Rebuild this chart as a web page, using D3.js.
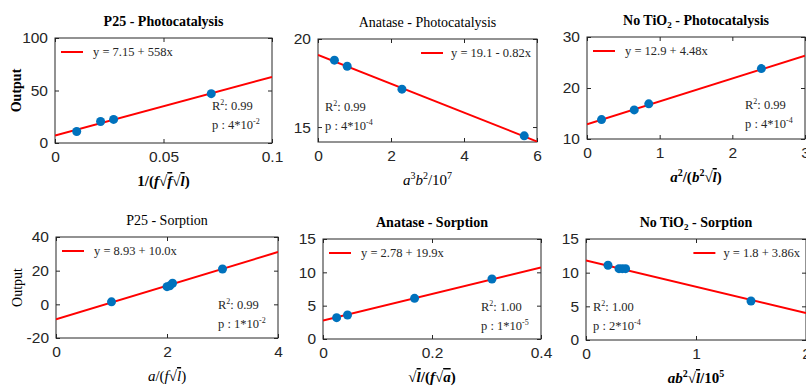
<!DOCTYPE html>
<html>
<head>
<meta charset="utf-8">
<script src="https://cdn.jsdelivr.net/npm/d3@7"></script>
<style>
  body { margin: 0; background: #fff; }
  svg { display: block; }
  .tick text { font-family: "Liberation Sans", Arial, sans-serif; font-size: 15.5px; fill: #262626; }
  .tick line { stroke: #262626; }
</style>
</head>
<body>
<script>
// six regression panels, MATLAB-ish look

var width = 806;
var height = 386;

// ---- data ----
var titles = ["P25 - Photocatalysis", "Anatase - Photocatalysis", "No TiO|2| - Photocatalysis",
              "P25 - Sorption", "Anatase - Sorption", "No TiO|2| - Sorption"];
var titleBold = [true, false, true, false, true, true];

var xDomains = [[0, 0.1], [0, 6], [0, 3], [0, 4], [0, 0.4], [0, 2]];
var yDomains = [[0, 100], [14.15, 20], [10, 30], [-20, 40], [0, 15], [0, 15]];
var xTicks = [[0, 0.05, 0.1], [0, 2, 4, 6], [0, 1, 2, 3], [0, 2, 4], [0, 0.2, 0.4], [0, 1, 2]];
var yTicks = [[0, 50, 100], [15, 20], [10, 20, 30], [-20, 0, 20, 40], [0, 5, 10, 15], [0, 5, 10, 15]];

var pointsX = [
  [0.01, 0.021, 0.027, 0.072],
  [0.45, 0.8, 2.3, 5.65],
  [0.2, 0.65, 0.85, 2.4],
  [1.0, 2.0, 2.05, 2.1, 3.0],
  [0.025, 0.045, 0.168, 0.31],
  [0.2, 0.3, 0.33, 0.36, 1.5]
];
var pointsY = [
  [11, 20.5, 22.5, 47],
  [18.8, 18.45, 17.15, 14.5],
  [13.8, 15.7, 16.9, 23.8],
  [1.5, 10.5, 11, 12.5, 21],
  [3.2, 3.6, 6.1, 9.0],
  [11.1, 10.6, 10.6, 10.6, 5.8]
];

// fitted line as drawn (intercept, slope)
var fitA = [7.15, 19.1, 12.9, -8.93, 2.78, 11.8];
var fitB = [558, -0.82, 4.48, 10.0, 19.9, -3.9];

var legendText = ["y = 7.15 + 558x", "y = 19.1 - 0.82x", "y = 12.9 + 4.48x",
                  "y = 8.93 + 10.0x", "y = 2.78 + 19.9x", "y = 1.8 + 3.86x"];
var legendRight = [false, true, false, false, false, true];
var statR2 = ["0.99", "0.99", "0.99", "0.99", "1.00", "1.00"];
var statP = ["4", "4", "4", "1", "1", "2"];
var statPexp = ["-2", "-4", "-4", "-2", "-5", "-4"];
var statsLeft = [false, true, false, false, false, true];

// axis label pieces: [text, style]  i = italic, o = overline, s = superscript
var xLabels = [
  [["1/(", ""], ["f", "i"], ["√", ""], ["f", "io"], ["√", ""], ["l", "io"], [")", ""]],
  [["a", "i"], ["3", "s"], ["b", "i"], ["2", "s"], ["/10", ""], ["7", "s"]],
  [["a", "i"], ["2", "s"], ["/(", ""], ["b", "i"], ["2", "s"], ["√", ""], ["l", "io"], [")", ""]],
  [["a", "i"], ["/(", ""], ["f", "i"], ["√", ""], ["l", "io"], [")", ""]],
  [["√", ""], ["l", "io"], ["/(", ""], ["f", "i"], ["√", ""], ["a", "io"], [")", ""]],
  [["ab", "i"], ["2", "s"], ["√", ""], ["l", "io"], ["/10", ""], ["5", "s"]]
];
var xLabelBold = [true, false, true, false, true, true];
var yLabels = ["Output", null, null, "Output", null, null];
var yLabelBold = [true, null, null, false, null, null];

// ---- layout (plot boxes) ----
var boxes = [
  {l: 55, t: 38, r: 272, b: 143},
  {l: 318, t: 39, r: 537, b: 142},
  {l: 587, t: 37, r: 805, b: 139},
  {l: 56, t: 237, r: 278, b: 338},
  {l: 323, t: 239, r: 541, b: 339},
  {l: 586, t: 239, r: 806, b: 340}
];

var svg = d3.select('body').append('svg')
  .attr('width', width)
  .attr('height', height);

var serif = '"Liberation Serif", "Times New Roman", serif';

boxes.forEach(function(box, i) {
  var x = d3.scaleLinear().domain(xDomains[i]).range([box.l, box.r]);
  var y = d3.scaleLinear().domain(yDomains[i]).range([box.b, box.t]);
  var g = svg.append('g');

  // clip
  g.append('clipPath').attr('id', 'clip' + i)
    .append('rect')
    .attr('x', box.l).attr('y', box.t)
    .attr('width', box.r - box.l).attr('height', box.b - box.t);

  // axes with inward ticks
  var fmt = function(d) { return String(d); };
  var bottom = g.append('g').attr('transform', 'translate(0,' + box.b + ')')
    .call(d3.axisBottom(x).tickValues(xTicks[i]).tickFormat(fmt).tickSizeInner(-4).tickSizeOuter(0).tickPadding(8));
  bottom.selectAll('text').attr('dy', '0.71em');
  g.append('g').attr('transform', 'translate(' + box.l + ',0)')
    .call(d3.axisLeft(y).tickValues(yTicks[i]).tickFormat(fmt).tickSizeInner(-4).tickSizeOuter(0).tickPadding(7));
  g.append('g').attr('transform', 'translate(0,' + box.t + ')')
    .call(d3.axisTop(x).tickValues(xTicks[i]).tickFormat('').tickSizeInner(-4).tickSizeOuter(0));
  g.append('g').attr('transform', 'translate(' + box.r + ',0)')
    .call(d3.axisRight(y).tickValues(yTicks[i]).tickFormat('').tickSizeInner(-4).tickSizeOuter(0));
  g.selectAll('.domain').remove();

  g.append('rect')
    .attr('x', box.l).attr('y', box.t)
    .attr('width', box.r - box.l).attr('height', box.b - box.t)
    .attr('fill', 'none')
    .attr('stroke', '#262626')
    .attr('stroke-width', 1);

  // fit line
  var xd = xDomains[i];
  g.append('line')
    .attr('clip-path', 'url(#clip' + i + ')')
    .attr('x1', x(xd[0])).attr('y1', y(fitA[i] + fitB[i] * xd[0]))
    .attr('x2', x(xd[1])).attr('y2', y(fitA[i] + fitB[i] * xd[1]))
    .attr('stroke', '#ff0000')
    .attr('stroke-width', 2);

  // points
  g.selectAll('circle.pt')
    .data(pointsX[i].map(function(v, k) { return {x: v, y: pointsY[i][k]}; }))
    .enter()
    .append('circle')
    .attr('class', 'pt')
    .attr('cx', function(d) { return x(d.x); })
    .attr('cy', function(d) { return y(d.y); })
    .attr('r', 4.5)
    .attr('fill', '#0072bd');

  // legend
  var leg = g.append('text')
    .attr('y', box.t + 18)
    .attr('font-family', serif)
    .attr('font-size', 12.5)
    .attr('fill', '#262626')
    .text(legendText[i]);
  var lx0, lx1;
  if (legendRight[i]) {
    leg.attr('x', box.r - 6).attr('text-anchor', 'end');
    var w = leg.node().getComputedTextLength();
    lx1 = box.r - 6 - w - 8;
    lx0 = lx1 - 22;
  } else {
    leg.attr('x', box.l + 38);
    lx0 = box.l + 6;
    lx1 = box.l + 28;
  }
  g.append('line')
    .attr('x1', lx0).attr('x2', lx1)
    .attr('y1', box.t + 14).attr('y2', box.t + 14)
    .attr('stroke', '#ff0000')
    .attr('stroke-width', 2);

  // stats
  var sx = statsLeft[i] ? box.l + 7 : box.r - 60;
  var s1 = g.append('text')
    .attr('x', sx).attr('y', box.t + 72)
    .attr('font-family', serif).attr('font-size', 12.5).attr('fill', '#262626');
  s1.append('tspan').text('R');
  s1.append('tspan').attr('font-size', 8).attr('dy', -5).text('2');
  s1.append('tspan').attr('dy', 5).text(': ' + statR2[i]);
  var s2 = g.append('text')
    .attr('x', sx).attr('y', box.t + 91)
    .attr('font-family', serif).attr('font-size', 12.5).attr('fill', '#262626');
  s2.append('tspan').text('p  : ' + statP[i] + '*10');
  s2.append('tspan').attr('font-size', 8).attr('dy', -5).text(statPexp[i]);

  // title
  var cx = (box.l + box.r) / 2;
  var tt = g.append('text')
    .attr('x', cx).attr('y', box.t - 12)
    .attr('text-anchor', 'middle')
    .attr('font-family', serif)
    .attr('font-size', 14)
    .attr('font-weight', titleBold[i] ? 'bold' : 'normal')
    .attr('fill', '#000');
  titles[i].split('|').forEach(function(part, k) {
    var sp = tt.append('tspan').text(part);
    if (k === 1) sp.attr('font-size', 9).attr('dy', 3);
    if (k === 2) sp.attr('dy', -3);
  });

  // x label
  var xl = g.append('text')
    .attr('x', cx).attr('y', box.b + 43)
    .attr('text-anchor', 'middle')
    .attr('font-family', serif)
    .attr('font-size', 15)
    .attr('font-weight', xLabelBold[i] ? 'bold' : 'normal')
    .attr('fill', '#000');
  var raised = false;
  xLabels[i].forEach(function(seg) {
    var sp = xl.append('tspan').text(seg[0]);
    var st = seg[1];
    if (st.indexOf('i') >= 0) sp.attr('font-style', 'italic');
    if (st.indexOf('o') >= 0) sp.style('text-decoration', 'overline');
    if (st.indexOf('s') >= 0) {
      sp.attr('font-size', 10).attr('dy', -6);
      raised = true;
    } else if (raised) {
      sp.attr('dy', 6);
      raised = false;
    }
  });

  // y label
  if (yLabels[i]) {
    g.append('text')
      .attr('transform', 'translate(' + (box.l - 34) + ',' + ((box.t + box.b) / 2) + ') rotate(-90)')
      .attr('text-anchor', 'middle')
      .attr('font-family', serif)
      .attr('font-size', 14)
      .attr('font-weight', yLabelBold[i] ? 'bold' : 'normal')
      .attr('fill', '#000')
      .text(yLabels[i]);
  }
});
</script>
</body>
</html>
